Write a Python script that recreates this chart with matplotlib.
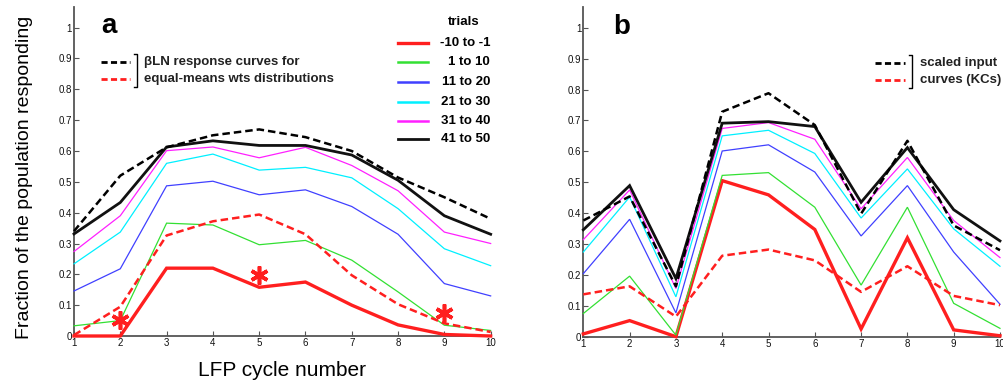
import matplotlib
matplotlib.use("Agg")
import matplotlib.pyplot as plt
from matplotlib.lines import Line2D
from matplotlib import font_manager

# ---------------- data ----------------
cycles = [1, 2, 3, 4, 5, 6, 7, 8, 9, 10]
trial_labels = ["-10 to -1", "1 to 10", "11 to 20", "21 to 30", "31 to 40", "41 to 50"]

# panel a
a_red = [0.0, 0.0, 0.22, 0.22, 0.158, 0.175, 0.10, 0.036, 0.005, 0.0]
a_green = [0.033, 0.05, 0.366, 0.36, 0.296, 0.31, 0.246, 0.143, 0.035, 0.018]
a_blue = [0.146, 0.218, 0.487, 0.502, 0.458, 0.474, 0.42, 0.33, 0.17, 0.13]
a_cyan = [0.234, 0.337, 0.56, 0.59, 0.538, 0.547, 0.513, 0.413, 0.283, 0.228]
a_magenta = [0.274, 0.39, 0.601, 0.613, 0.578, 0.612, 0.553, 0.471, 0.337, 0.30]
a_black = [0.331, 0.433, 0.613, 0.633, 0.618, 0.618, 0.587, 0.505, 0.39, 0.33]
a_dash_black = [0.34, 0.52, 0.612, 0.651, 0.67, 0.645, 0.60, 0.514, 0.45, 0.38]
a_dash_red = [0.003, 0.095, 0.326, 0.372, 0.394, 0.33, 0.197, 0.103, 0.041, 0.013]
star_x = [2, 5, 9]
star_y = [0.053, 0.197, 0.075]

# panel b
b_red = [0.009, 0.052, 0.0, 0.505, 0.459, 0.347, 0.025, 0.32, 0.022, 0.003]
b_green = [0.075, 0.196, 0.005, 0.522, 0.531, 0.419, 0.167, 0.419, 0.108, 0.027]
b_blue = [0.204, 0.38, 0.077, 0.601, 0.621, 0.533, 0.326, 0.489, 0.274, 0.105]
b_cyan = [0.274, 0.452, 0.129, 0.65, 0.668, 0.593, 0.384, 0.543, 0.349, 0.228]
b_magenta = [0.314, 0.475, 0.156, 0.674, 0.693, 0.639, 0.414, 0.58, 0.376, 0.256]
b_black = [0.346, 0.489, 0.188, 0.691, 0.696, 0.68, 0.435, 0.612, 0.411, 0.31]
b_dash_black = [0.376, 0.454, 0.163, 0.728, 0.788, 0.685, 0.398, 0.634, 0.36, 0.28]
b_dash_red = [0.137, 0.163, 0.065, 0.262, 0.282, 0.247, 0.145, 0.228, 0.132, 0.102]

yticks = [0, 0.1, 0.2, 0.3, 0.4, 0.5, 0.6, 0.7, 0.8, 0.9, 1]
ytick_labels = ["0", "0.1", "0.2", "0.3", "0.4", "0.5", "0.6", "0.7", "0.8", "0.9", "1"]

# ---------------- style ----------------
installed = {f.name for f in font_manager.fontManager.ttflist}
SANS = "Liberation Sans" if "Liberation Sans" in installed else "DejaVu Sans"
NARROW = "Liberation Sans Narrow" if "Liberation Sans Narrow" in installed else SANS
plt.rcParams["font.family"] = [SANS, "DejaVu Sans"]

colors = ["#ff1f1f", "#33e033", "#4040ff", "#00f0ff", "#ff20ff", "#111111"]
widths = [2.4, 0.9, 0.9, 0.9, 0.9, 2.0]
spine_col = "#555555"

fig = plt.figure(figsize=(10.04, 3.81), dpi=100)
ax_a = fig.add_axes([0.0737, 0.1181, 0.415, 0.8627])
ax_b = fig.add_axes([0.5810, 0.1163, 0.415, 0.8645])


def style_axes(ax):
    ax.set_xlim(1, 10)
    ax.set_ylim(0, 1.066)
    ax.set_xticks(cycles)
    ax.set_xticklabels([str(c) for c in cycles], fontfamily=NARROW, fontsize=7)
    ax.set_yticks(yticks)
    ax.set_yticklabels(ytick_labels, fontfamily=NARROW, fontsize=7)
    for s in ["top", "right"]:
        ax.spines[s].set_visible(False)
    for s in ["left", "bottom"]:
        ax.spines[s].set_color(spine_col)
        ax.spines[s].set_linewidth(1.3)
    ax.tick_params(direction="in", length=3.5, width=0.8, color=spine_col,
                   pad=1.5, labelcolor="#111111")


def draw_series(ax, series, dash_black, dash_red):
    for vals, c, w in zip(series, colors, widths):
        ax.plot(cycles, vals, color=c, lw=w, clip_on=False, zorder=3,
                solid_joinstyle="miter")
    ax.plot(cycles, dash_black, color="black", lw=1.8, ls=(0, (3, 1.6)),
            clip_on=False, zorder=4)
    ax.plot(cycles, dash_red, color="#ff1f1f", lw=1.8, ls=(0, (3, 1.6)),
            clip_on=False, zorder=4)


def dashed_bracket_legend(ax, x0, x1, yb, yr, xbr, xtxt, lines):
    ax.add_line(Line2D([x0, x1], [yb, yb], transform=ax.transAxes, color="black",
                       lw=2.0, ls=(0, (2.2, 1.2))))
    ax.add_line(Line2D([x0, x1], [yr, yr], transform=ax.transAxes, color="#ff1f1f",
                       lw=2.0, ls=(0, (2.2, 1.2))))
    top, bot = yb + 0.025, yr - 0.025
    ax.add_line(Line2D([xbr - 0.007, xbr, xbr, xbr - 0.007], [top, top, bot, bot],
                       transform=ax.transAxes, color="black", lw=1.0))
    ax.text(xtxt, yb, lines[0], transform=ax.transAxes, fontsize=9.5,
            fontweight="bold", color="#222222", va="center", ha="left")
    ax.text(xtxt, yr, lines[1], transform=ax.transAxes, fontsize=9.5,
            fontweight="bold", color="#222222", va="center", ha="left")


# ---------------- panel a ----------------
style_axes(ax_a)
draw_series(ax_a, [a_red, a_green, a_blue, a_cyan, a_magenta, a_black],
            a_dash_black, a_dash_red)
ax_a.plot(star_x, star_y, ls="none", marker=(6, 2, 0), ms=13, mew=2.6,
          color="#ff1f1f", zorder=5)
ax_a.set_ylabel("Fraction of the population responding", fontsize=14)
ax_a.yaxis.set_label_coords(-0.098, 0.484)
ax_a.set_xlabel("LFP cycle number", fontsize=15, labelpad=9)
ax_a.text(0.066, 0.921, "a", transform=ax_a.transAxes, fontsize=20,
          fontweight="bold", va="baseline")

dashed_bracket_legend(ax_a, 0.066, 0.134, 0.834, 0.782, 0.152, 0.168,
                      ["\u03b2LN response curves for",
                       "equal-means wts distributions"])

# trials legend
ax_a.text(0.936, 0.956, "trials", transform=ax_a.transAxes, fontsize=9.5,
          fontweight="bold", ha="center", va="center")
rows = [0.892, 0.833, 0.774, 0.713, 0.655, 0.598]
for lab, c, w, yy in zip(trial_labels, colors, widths, rows):
    ax_a.add_line(Line2D([0.778, 0.850], [yy, yy], transform=ax_a.transAxes,
                         color=c, lw=max(w, 1.8)))
    ax_a.text(0.999, yy, lab, transform=ax_a.transAxes, fontsize=9.5,
              fontweight="bold", ha="right", va="center")

# ---------------- panel b ----------------
style_axes(ax_b)
draw_series(ax_b, [b_red, b_green, b_blue, b_cyan, b_magenta, b_black],
            b_dash_black, b_dash_red)
ax_b.text(0.0706, 0.92, "b", transform=ax_b.transAxes, fontsize=20,
          fontweight="bold", va="baseline")
dashed_bracket_legend(ax_b, 0.70, 0.772, 0.830, 0.779, 0.789, 0.808,
                      ["scaled input", "curves (KCs)"])

fig.savefig("out.png", dpi=100)
